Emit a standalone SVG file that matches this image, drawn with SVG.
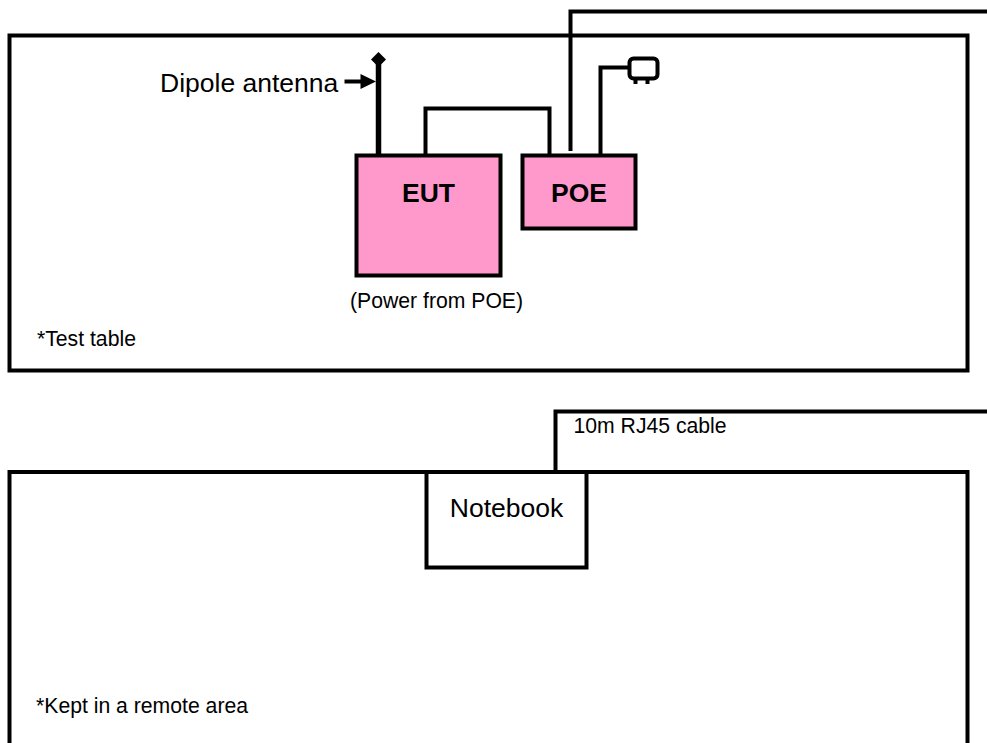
<svg xmlns="http://www.w3.org/2000/svg" width="987" height="743" viewBox="0 0 987 743">
<style>
.ln{fill:none;stroke:#000;stroke-width:4;stroke-linejoin:miter}
.box{fill:#ff99cc;stroke:#000;stroke-width:4}
text{font-family:"Liberation Sans",Arial,sans-serif;fill:#000}
.s{font-size:21.200px}
.m{font-size:26.500px}
.b{font-size:26.500px;font-weight:bold}
</style>
<rect width="987" height="743" fill="#fff"/>
<g id="test-table"><rect class="ln" x="9.500" y="35.500" width="958" height="335"/><text class="s" x="37" y="346">*Test table</text></g>
<g id="remote-area"><path class="ln" d="M9.500 750V472H967.500V750"/><text class="s" x="36" y="713">*Kept in a remote area</text></g>
<g id="connectors">
<path class="ln" d="M570.500 151V11.500H987"/>
<path class="ln" d="M600.500 155V67.500H629"/>
<path class="ln" d="M425.500 155V108.500H549.500V155"/>
<path class="ln" style="stroke-width:5.500" d="M378.500 155V60"/>
<path d="M378.500 52L386 59.500L378.500 67L371 59.500Z" fill="#000"/>
<path class="ln" d="M344.500 81.500H362"/>
<path d="M360.500 74L376 81.500L360.500 89Z" fill="#000"/>
<path class="ln" d="M555.500 472V411.500H987"/>
</g>
<g id="plug"><rect class="ln" x="629.500" y="58.500" width="28" height="20" rx="4"/><path class="ln" d="M635.500 79V84M647.500 79V84"/></g>
<g id="eut"><rect class="box" x="356.500" y="155.500" width="144" height="120"/><text class="b" x="428.500" y="202" text-anchor="middle">EUT</text></g>
<g id="poe"><rect class="box" x="522.500" y="155.500" width="113" height="73"/><text class="b" x="579" y="202" text-anchor="middle">POE</text></g>
<g id="notebook"><rect class="ln" x="426.500" y="472" width="160" height="95.500"/><text class="m" x="506.500" y="517" text-anchor="middle">Notebook</text></g>
<text class="m" x="160" y="92">Dipole antenna</text>
<text class="s" x="350" y="307.500">(Power from POE)</text>
<text class="s" x="573.500" y="433">10m RJ45 cable</text>
</svg>
